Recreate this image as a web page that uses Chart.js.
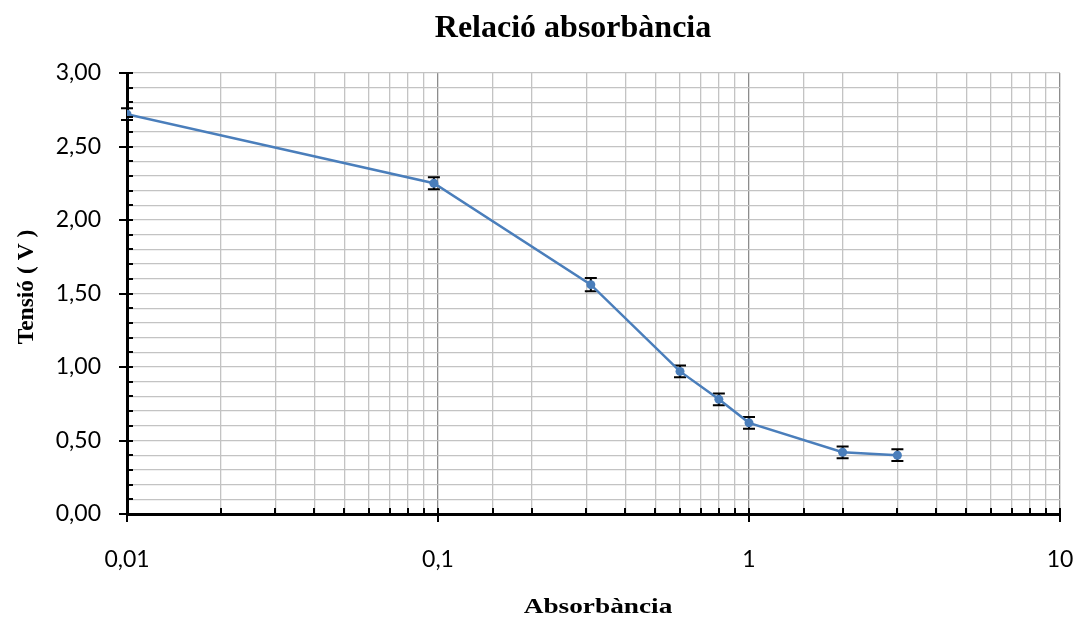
<!DOCTYPE html>
<html>
<head>
<meta charset="utf-8">
<script src="https://cdn.jsdelivr.net/npm/chart.js@4/dist/chart.umd.min.js"></script>
<style>
  html, body { margin: 0; padding: 0; background: #fff; }
  #wrap { width: 1077px; height: 619px; position: relative; }
</style>
</head>
<body>
<div id="wrap"><canvas id="chart_absorbancia"></canvas></div>
<script>
// Mesures: absorbància del filtre i tensió llegida
const absorbance = [0.01, 0.097, 0.31, 0.6, 0.8, 1, 2, 3];
const voltage = [2.72, 2.25, 1.56, 0.97, 0.78, 0.62, 0.42, 0.40];
const voltageErr = [0.04, 0.04, 0.045, 0.04, 0.04, 0.04, 0.04, 0.04];

const chartTitle = "Relació absorbància";
const xTitle = "Absorbància";
const yTitle = "Tensió ( V )";

const LINE_BLUE = "#4a7ebb";
const SERIF = "'Liberation Serif', 'Times New Roman', serif";
const SANS = "Lato, 'Noto Sans', sans-serif";

const isDecade = (v) => Math.abs(Math.log10(v) - Math.round(Math.log10(v))) < 1e-9;
const isHalf = (v) => Math.abs(v * 2 - Math.round(v * 2)) < 1e-6;

// error bars go under the line and markers
const errorBars = {
    id: "errorBars",
    beforeDatasetsDraw(chart) {
        const { ctx, scales: { x, y } } = chart;
        ctx.save();
        ctx.strokeStyle = "#000";
        ctx.lineWidth = 2;
        for (let i = 0; i < absorbance.length; i++) {
            const px = x.getPixelForValue(absorbance[i]);
            const top = y.getPixelForValue(voltage[i] + voltageErr[i]);
            const bot = y.getPixelForValue(voltage[i] - voltageErr[i]);
            ctx.beginPath();
            ctx.moveTo(px, top); ctx.lineTo(px, bot);
            ctx.moveTo(px - 6, top); ctx.lineTo(px + 6, top);
            ctx.moveTo(px - 6, bot); ctx.lineTo(px + 6, bot);
            ctx.stroke();
        }
        ctx.restore();
    }
};

// Excel style tick marks: majors cross the axis, minors point inward
const tickMarks = {
    id: "tickMarks",
    afterDraw(chart) {
        const { ctx, scales: { x, y } } = chart;
        ctx.save();
        ctx.strokeStyle = "#000";
        ctx.lineWidth = 2;
        const base = y.getPixelForValue(0);
        x.ticks.forEach(t => {
            const px = Math.round(x.getPixelForValue(t.value));
            ctx.beginPath();
            if (isDecade(t.value)) { ctx.moveTo(px, base - 6); ctx.lineTo(px, base + 8); }
            else { ctx.moveTo(px, base - 6); ctx.lineTo(px, base); }
            ctx.stroke();
        });
        const left = x.getPixelForValue(0.01);
        y.ticks.forEach(t => {
            const py = Math.round(y.getPixelForValue(t.value));
            ctx.beginPath();
            if (isHalf(t.value)) { ctx.moveTo(left - 8, py); ctx.lineTo(left + 6, py); }
            else { ctx.moveTo(left, py); ctx.lineTo(left + 6, py); }
            ctx.stroke();
        });
        ctx.restore();
    }
};

// chart title and both axis titles
const drawTitles = {
    id: "drawTitles",
    afterDraw(chart) {
        const ctx = chart.ctx;
        ctx.save();
        ctx.fillStyle = "#000";
        ctx.textAlign = "center";
        ctx.textBaseline = "alphabetic";

        ctx.font = "bold 32px " + SERIF;
        ctx.fillText(chartTitle, 573, 37);

        // the x title is set a little wider than the plain font
        ctx.save();
        ctx.translate(598, 613);
        ctx.scale(1.24, 1);
        ctx.font = "bold 22px " + SERIF;
        ctx.fillText(xTitle, 0, 0);
        ctx.restore();

        ctx.save();
        ctx.translate(33, 287);
        ctx.rotate(-Math.PI / 2);
        ctx.font = "bold 23.5px " + SERIF;
        ctx.fillText(yTitle, 0, 0);
        ctx.restore();

        ctx.restore();
    }
};

new Chart(document.getElementById("chart_absorbancia"), {
    type: "line",
    data: {
        datasets: [{
            data: absorbance.map((a, i) => ({ x: a, y: voltage[i] })),
            borderColor: LINE_BLUE,
            backgroundColor: LINE_BLUE,
            borderWidth: 2.5,
            pointRadius: 4.5,
            pointHoverRadius: 4.5,
            pointBackgroundColor: LINE_BLUE,
            pointBorderWidth: 0,
            tension: 0,
        }],
    },
    options: {
        responsive: true,
        maintainAspectRatio: false,
        animation: false,
        layout: { padding: { top: 73, right: 17, left: 0, bottom: 0 } },
        plugins: { legend: { display: false }, tooltip: { enabled: false }, title: { display: false } },
        scales: {
            x: {
                type: "logarithmic",
                min: 0.01,
                max: 10,
                afterFit: (s) => { s.height = 105; },
                border: { color: "#000", width: 3 },
                grid: {
                    // invisible tick length pushes the labels down without widening the side padding
                    drawTicks: true,
                    tickLength: 32,
                    tickColor: "rgba(0,0,0,0)",
                    lineWidth: 1.3,
                    color: (c) => (c.tick && isDecade(c.tick.value)) ? "#8c8c8c" : "#c3c3c3",
                },
                ticks: {
                    autoSkip: false,
                    maxRotation: 0,
                    padding: 0,
                    color: "#000",
                    font: { family: SANS, size: 23 },
                    callback: (v) => isDecade(v) ? String(v).replace(".", ",") : "",
                },
                title: { display: false },
            },
            y: {
                min: 0,
                max: 3,
                afterFit: (s) => { s.width = 127; },
                border: { color: "#000", width: 3 },
                grid: { drawTicks: false, lineWidth: 1.3, color: "#c3c3c3" },
                ticks: {
                    stepSize: 0.1,
                    autoSkip: false,
                    padding: 26,
                    color: "#000",
                    font: { family: SANS, size: 23 },
                    callback: (v) => isHalf(v) ? v.toFixed(2).replace(".", ",") : "",
                },
                title: { display: false },
            },
        },
    },
    plugins: [errorBars, tickMarks, drawTitles],
});
</script>
</body>
</html>
